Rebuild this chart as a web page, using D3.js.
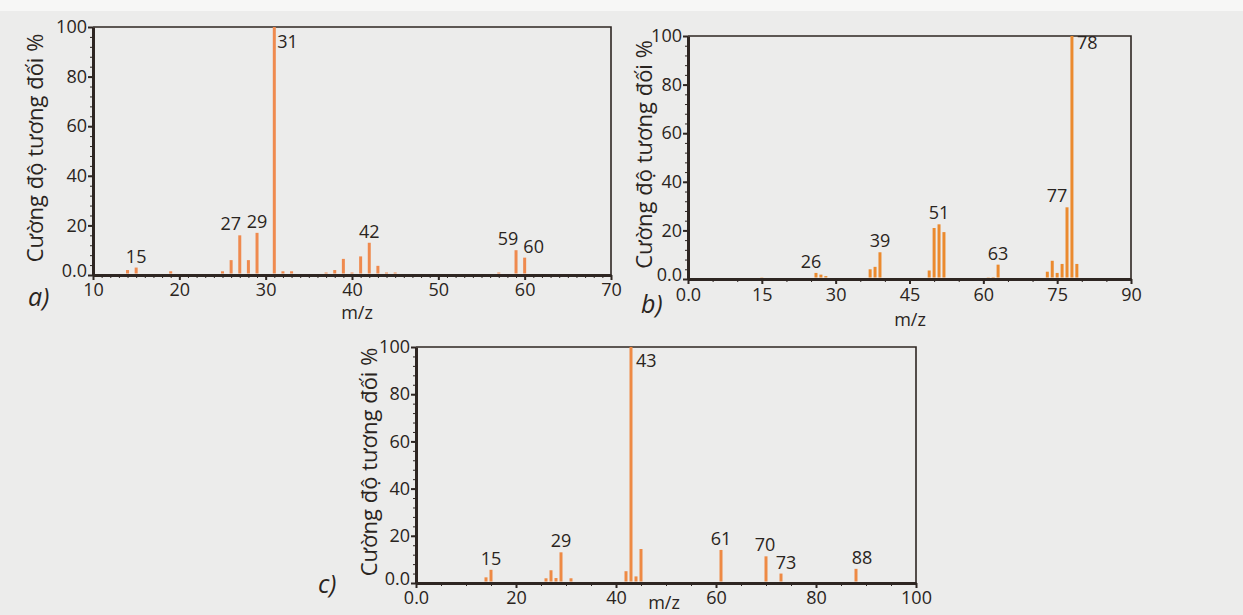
<!DOCTYPE html>
<html>
<head>
<meta charset="utf-8">
<script src="https://cdn.jsdelivr.net/npm/d3@7"></script>
<style>
  body { margin: 0; background: #ececeb; }
  text { font-family: "Open Sans", "Noto Sans", sans-serif; fill: #2a2420; }
</style>
</head>
<body>
<div class="canvas"></div>
<script>
// spectrum a)
const mzA = [14, 15, 19, 25, 26, 27, 28, 29, 31, 32, 33, 37, 38, 39, 40, 41, 42, 43, 44, 45, 57, 59, 60];
const intA = [2, 3, 1.5, 1.5, 6, 16, 6, 17, 100, 1.5, 1.5, 1, 2, 6.5, 1, 7.5, 13, 3.7, 1, 1, 1, 10, 7];
const peaksA = [15, 27, 29, 31, 42, 59, 60];

// spectrum b)
const mzB = [15, 26, 27, 28, 37, 38, 39, 49, 50, 51, 52, 61, 62, 63, 73, 74, 75, 76, 77, 78, 79];
const intB = [0.5, 2.5, 1.8, 1.2, 4, 5, 11, 3.5, 21, 22.5, 19.3, 0.5, 0.8, 5.9, 3, 7.5, 2.5, 6.2, 29.5, 100, 6.2];
const peaksB = [26, 39, 51, 63, 77, 78];

// spectrum c)
const mzC = [14, 15, 26, 27, 28, 29, 31, 42, 43, 44, 45, 61, 70, 73, 88];
const intC = [2.4, 5.6, 2, 5.4, 2.1, 13, 2, 5, 100, 2.8, 14.4, 14, 11.3, 4, 6];
const peaksC = [15, 29, 43, 61, 70, 73, 88];

// tick labels
const yTicks = [0, 20, 40, 60, 80, 100];
const xTicksA = [10, 20, 30, 40, 50, 60, 70];
const xTicksB = [0, 15, 30, 45, 60, 75, 90];
const xTicksC = [0, 20, 40, 60, 80, 100];

const yTitle = 'Cường độ tương đối %';
const xTitle = 'm/z';

const W = 1243, H = 615;

const svg = d3.select('.canvas')
    .append('svg')
    .attr('width', W)
    .attr('height', H);

// paper
svg.append('rect').attr('width', W).attr('height', H).attr('fill', '#ececeb');
svg.append('rect').attr('width', W).attr('height', 11).attr('fill', '#f7f7f6');

// panel layout (pixels), label nudges per peak
const panels = [
    {
        tag: 'a)', mz: mzA, val: intA, peaks: peaksA,
        xDomain: [10, 70], xTicks: xTicksA, xMinor: 1, xFmt: d => d,
        box: { x0: 93, x1: 611, top: 27, base: 275 },
        color: '#ef8a4e',
        nudge: { 27: [-9, 0], 59: [-8, 0], 60: [9, 0] },
        basePeak: 31, baseDy: 21, baseDx: 3,
        tagPos: [28, 306], titleX: 43, mzX: 357, mzY: 319, xLabDy: 21
    },
    {
        tag: 'b)', mz: mzB, val: intB, peaks: peaksB,
        xDomain: [0, 90], xTicks: xTicksB, xMinor: 5, xFmt: d => d === 0 ? '0.0' : d,
        box: { x0: 688, x1: 1131, top: 36, base: 279 },
        color: '#eb8a2e',
        nudge: { 26: [-5, 0], 77: [-10, 0] },
        basePeak: 78, baseDy: 13, baseDx: 5,
        tagPos: [641, 313], titleX: 652, mzX: 910, mzY: 326, xLabDy: 22
    },
    {
        tag: 'c)', mz: mzC, val: intC, peaks: peaksC,
        xDomain: [0, 100], xTicks: xTicksC, xMinor: 5, xFmt: d => d === 0 ? '0.0' : d,
        box: { x0: 416, x1: 916, top: 347, base: 583 },
        color: '#ee8a44',
        nudge: { 70: [-1, 0], 73: [5, 0], 88: [6, 0] },
        basePeak: 43, baseDy: 20, baseDx: 5,
        tagPos: [318, 593], titleX: 377, mzX: 664, mzY: 609, xLabDy: 21
    }
];

panels.forEach(p => {

    const b = p.box;

    const x = d3.scaleLinear().domain(p.xDomain).range([b.x0, b.x1]);
    const y = d3.scaleLinear().domain([0, 100]).range([b.base, b.top]);

    const g = svg.append('g');

    // top + right frame, thin
    g.append('path')
        .attr('d', `M${b.x0},${b.top}H${b.x1}V${b.base}`)
        .attr('fill', 'none')
        .attr('stroke', '#2e2622')
        .attr('stroke-width', 1.6);

    // minor ticks
    const xMinor = d3.range(p.xDomain[0], p.xDomain[1] + 0.001, p.xMinor);
    g.append('g')
        .attr('transform', `translate(0,${b.base})`)
        .call(d3.axisBottom(x).tickValues(xMinor).tickSize(3).tickFormat(''))
        .call(ax => ax.select('.domain').remove());

    g.append('g')
        .attr('transform', `translate(${b.x0},0)`)
        .call(d3.axisLeft(y).tickValues(d3.range(0, 101, 4)).tickSize(3).tickFormat(''))
        .call(ax => ax.select('.domain').remove());

    // major axes
    const xAxis = g.append('g')
        .attr('transform', `translate(0,${b.base})`)
        .call(d3.axisBottom(x).tickValues(p.xTicks).tickSize(5).tickSizeOuter(0).tickFormat(p.xFmt));

    const yAxis = g.append('g')
        .attr('transform', `translate(${b.x0},0)`)
        .call(d3.axisLeft(y).tickValues(yTicks).tickSize(5).tickSizeOuter(0)
            .tickFormat(d => d === 0 ? '0.0' : d));

    [xAxis, yAxis].forEach(ax => {
        ax.select('.domain').attr('stroke', '#2e2622').attr('stroke-width', 3);
        ax.selectAll('.tick line').attr('stroke', '#2e2622').attr('stroke-width', 2);
        ax.selectAll('.tick text')
            .attr('fill', '#2a2420')
            .style('font-size', '18px')
            .style('font-family', '"Open Sans", sans-serif');
    });
    g.selectAll('.tick line').attr('stroke', '#2e2622');

    xAxis.selectAll('.tick text').attr('y', p.xLabDy - 13).attr('dy', '0.71em');
    yAxis.selectAll('.tick text').attr('x', -6);
    // lift the y "0.0" a little so it clears the x "0.0"
    yAxis.selectAll('.tick text').filter(d => d === 0).attr('dy', '0.1em');

    // spectrum lines
    const data = p.mz.map((m, i) => ({ mz: m, v: p.val[i] }));

    g.selectAll('line.peak')
        .data(data)
        .enter()
        .append('line')
            .attr('class', 'peak')
            .attr('x1', d => x(d.mz))
            .attr('x2', d => x(d.mz))
            .attr('y1', b.base - 1.5)
            .attr('y2', d => y(d.v))
            .attr('stroke', p.color)
            .attr('stroke-width', 3);

    // peak labels
    const labelled = data.filter(d => p.peaks.includes(d.mz));

    g.selectAll('text.peak')
        .data(labelled)
        .enter()
        .append('text')
            .attr('class', 'peak')
            .attr('x', d => {
                if (d.mz === p.basePeak) return x(d.mz) + p.baseDx;
                const n = p.nudge[d.mz] || [0, 0];
                return x(d.mz) + n[0];
            })
            .attr('y', d => {
                if (d.mz === p.basePeak) return y(d.v) + p.baseDy;
                const n = p.nudge[d.mz] || [0, 0];
                return y(d.v) - 5 + n[1];
            })
            .attr('text-anchor', d => d.mz === p.basePeak ? 'start' : 'middle')
            .style('font-size', '18px')
            .text(d => d.mz);

    // axis titles
    g.append('text')
        .attr('transform', `translate(${p.titleX},${(b.top + b.base) / 2 - 3}) rotate(-90)`)
        .attr('text-anchor', 'middle')
        .style('font-size', '22px')
        .text(yTitle);

    g.append('text')
        .attr('x', p.mzX)
        .attr('y', p.mzY)
        .attr('text-anchor', 'middle')
        .style('font-size', '18px')
        .text(xTitle);

    // panel tag
    g.append('text')
        .attr('x', p.tagPos[0])
        .attr('y', p.tagPos[1])
        .style('font-size', '25px')
        .style('font-style', 'italic')
        .text(p.tag);
});
</script>
</body>
</html>
